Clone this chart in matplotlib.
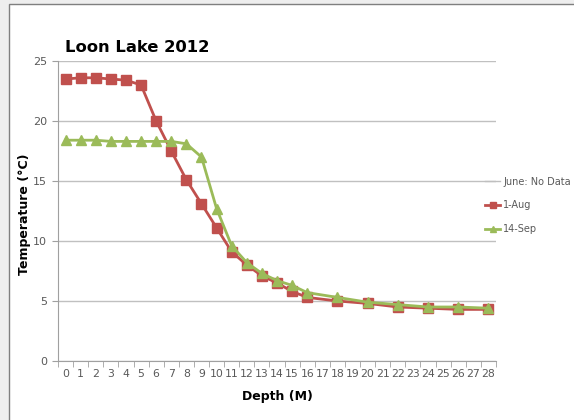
import numpy as np
import matplotlib.pyplot as plt
from matplotlib.lines import Line2D
from matplotlib.patches import Rectangle

# depth (m) and temperature readings
depth = [0, 1, 2, 3, 4, 5, 6, 7, 8, 9, 10, 11, 12, 13, 14, 15, 16, 18, 20, 22, 24, 26, 28]
temp_aug = [23.5, 23.6, 23.6, 23.5, 23.4, 23.0, 20.0, 17.5, 15.1, 13.1, 11.1, 9.1, 8.0, 7.1,
            6.5, 5.8, 5.3, 5.0, 4.8, 4.5, 4.4, 4.3, 4.3]
temp_sep = [18.4, 18.4, 18.4, 18.3, 18.3, 18.3, 18.3, 18.3, 18.1, 17.0, 12.7, 9.6, 8.2, 7.3,
            6.7, 6.3, 5.7, 5.3, 4.9, 4.7, 4.5, 4.5, 4.4]
x_labels = [str(i) for i in range(29)]
y_ticks = [0, 5, 10, 15, 20, 25]

red = '#c0504d'
green = '#9bbb59'
txt = '#595959'

fig = plt.figure(figsize=(5.74, 4.2), dpi=100)
fig.patch.set_facecolor('#eeeeee')
# chart area frame (kept behind the axes)
frame = Rectangle((9 / 574, -0.1), 1.2, 1.1 - 4 / 420, transform=fig.transFigure,
                  facecolor='white', edgecolor='#7f7f7f', linewidth=1.0, zorder=-10)
fig.patches.append(frame)

ax = fig.add_axes([58 / 574, 1 - 361 / 420, (496 - 58) / 574, (361 - 61) / 420])
ax.set_facecolor('none')

ax.plot(depth, temp_aug, color=red, lw=2, marker='s', ms=7, label='1-Aug', zorder=3)
ax.plot(depth, temp_sep, color=green, lw=2, marker='^', ms=7, label='14-Sep', zorder=4)

ax.set_xlim(-0.5, 28.5)
ax.set_ylim(0, 25)
ax.set_yticks(y_ticks)
ax.set_xticks(range(29))
ax.set_xticklabels(x_labels)
ax.set_xticks(np.arange(-0.5, 29, 1), minor=True)
ax.tick_params(axis='x', which='major', length=0, pad=6, labelsize=7.8, colors=txt)
ax.tick_params(axis='x', which='minor', length=4, color='#a0a0a0', direction='out')
ax.tick_params(axis='y', length=4, color='#a0a0a0', labelsize=8, colors=txt, pad=4)
ax.grid(axis='y', color='#c0c0c0', lw=1)
ax.set_axisbelow(True)
for s in ['top', 'right']:
    ax.spines[s].set_visible(False)
for s in ['left', 'bottom']:
    ax.spines[s].set_color('#a0a0a0')

ax.set_xlabel('Depth (M)', fontsize=9, fontweight='bold', labelpad=8)
ax.set_ylabel('Temperature (°C)', fontsize=9, fontweight='bold')
ax.yaxis.set_label_coords(-0.062, 0.49)

fig.text(65 / 574, 1 - 47 / 420, 'Loon Lake 2012', fontsize=11.8, fontweight='bold',
         va='center', ha='left')

handles = [Line2D([], [], color='#bfbfbf', lw=1),
           Line2D([], [], color=red, lw=2, marker='s', ms=4),
           Line2D([], [], color=green, lw=2, marker='^', ms=4)]
fig.legend(handles, ['June: No Data', '1-Aug', '14-Sep'], loc='upper left',
           bbox_to_anchor=(476 / 574, 1 - 168 / 420), frameon=False, fontsize=7,
           handlelength=1.6, handletextpad=0.3, labelspacing=1.4, labelcolor=txt)

fig.savefig('out.png', dpi=100)
